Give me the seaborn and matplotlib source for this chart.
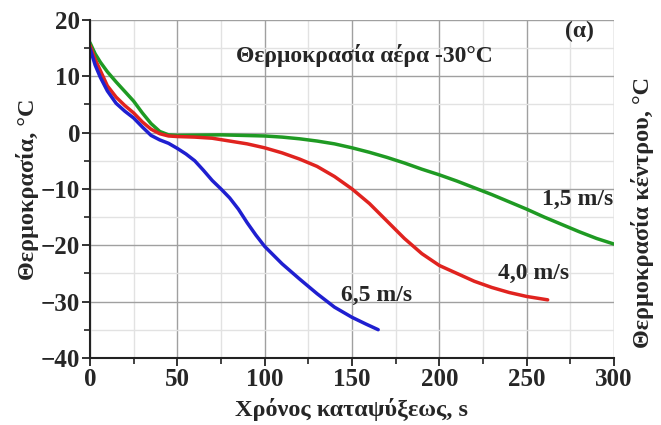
import matplotlib
matplotlib.use("Agg")
import matplotlib.pyplot as plt
import seaborn as sns
import pandas as pd
from matplotlib.ticker import MultipleLocator

# Data
t_blue = [0, 3, 6, 10, 15, 20, 25, 30, 35, 40, 45, 50, 55, 60, 65, 70, 75, 80, 85, 90, 95, 100,
          110, 120, 130, 140, 150, 158, 165]
T_blue = [15, 12, 9.8, 7.4, 5.2, 3.8, 2.6, 1.0, -0.5, -1.3, -1.9, -2.8, -3.8, -5.0, -6.7, -8.5, -10.0,
          -11.6, -13.6, -16.0, -18.2, -20.2, -23.3, -26.0, -28.6, -31.0, -32.8, -34.0, -35.0]

t_red = [0, 3, 6, 10, 15, 20, 25, 30, 35, 40, 45, 50, 60, 70, 80, 90, 100, 110, 120, 130, 140, 150,
         160, 170, 180, 190, 200, 210, 220, 230, 240, 250, 262]
T_red = [15.5, 13, 11, 8.3, 6.3, 4.8, 3.5, 1.9, 0.6, -0.2, -0.6, -0.7, -0.8, -1.0, -1.5, -2.0, -2.7,
         -3.6, -4.7, -6.0, -7.8, -10.0, -12.6, -15.7, -18.8, -21.5, -23.6, -25.0, -26.4, -27.5,
         -28.4, -29.1, -29.7]

t_green = [0, 3, 6, 10, 15, 20, 25, 30, 35, 40, 45, 50, 75, 100, 110, 120, 130, 140, 150, 160, 170,
           180, 190, 200, 210, 220, 230, 240, 250, 260, 270, 280, 290, 300]
T_green = [16, 14, 12.5, 10.8, 9.0, 7.3, 5.6, 3.5, 1.6, 0.2, -0.4, -0.5, -0.4, -0.6, -0.8, -1.1,
           -1.5, -2.0, -2.7, -3.5, -4.4, -5.4, -6.5, -7.5, -8.6, -9.8, -11.0, -12.3, -13.6, -15.0,
           -16.3, -17.6, -18.8, -19.8]

labels = ["6,5 m/s", "4,0 m/s", "1,5 m/s"]
label_pos_x = [164, 254, 279]
label_pos_y = [-28.9, -25.0, -11.8]

sns.set_theme(style="white")
plt.rcParams['font.family'] = ['Liberation Serif', 'DejaVu Serif']
plt.rcParams['font.weight'] = 'bold'

fig = plt.figure(figsize=(6.61, 4.25), dpi=100)
ax = fig.add_axes([0.136, 0.158, 0.793, 0.795])

sns.lineplot(x=t_green, y=T_green, color="#1f9a23", lw=2.5, ax=ax, sort=False)
sns.lineplot(x=t_red, y=T_red, color="#e0231f", lw=2.5, ax=ax, sort=False)
sns.lineplot(x=t_blue, y=T_blue, color="#1f1fd0", lw=2.5, ax=ax, sort=False)

ax.set_xlim(0, 300)
ax.set_ylim(-40, 20)
ax.xaxis.set_major_locator(MultipleLocator(50))
ax.xaxis.set_minor_locator(MultipleLocator(25))
ax.yaxis.set_major_locator(MultipleLocator(10))
ax.yaxis.set_minor_locator(MultipleLocator(5))
ax.grid(which="major", color="#a0a0a0", lw=1.0)
ax.grid(which="minor", color="#e2e2e2", lw=1.0)
ax.set_axisbelow(True)

for s in ["top", "right"]:
    ax.spines[s].set_visible(False)
for s in ["left", "bottom"]:
    ax.spines[s].set_color("#222222")
    ax.spines[s].set_linewidth(1.5)

ax.tick_params(which="major", direction="out", length=6, width=1.3, color="#222222",
               labelsize=18, pad=1, bottom=True, left=True)
ax.tick_params(which="minor", direction="out", length=4, width=1.2, color="#222222",
               bottom=True, left=True)
for lab in ax.get_xticklabels() + ax.get_yticklabels():
    lab.set_fontweight("bold")

ax.set_xlabel("Χρόνος καταψύξεως, s", fontsize=17.5, fontweight="bold", labelpad=5)
ax.set_ylabel("Θερμοκρασία, °C", fontsize=17.5, fontweight="bold", labelpad=1)
fig.text(0.972, 0.50, "Θερμοκρασία κέντρου, °C", rotation=90, fontsize=17.5,
         fontweight="bold", ha="center", va="center")

ax.text(157, 13.7, "Θερμοκρασία αέρα -30°C", fontsize=17, fontweight="bold",
        ha="center", va="center")
ax.text(280, 18.0, "(α)", fontsize=17, fontweight="bold", ha="center", va="center")
for lx, ly, lt in zip(label_pos_x, label_pos_y, labels):
    ax.text(lx, ly, lt, fontsize=17, fontweight="bold", ha="center", va="center")

fig.savefig("out.png", dpi=100)
